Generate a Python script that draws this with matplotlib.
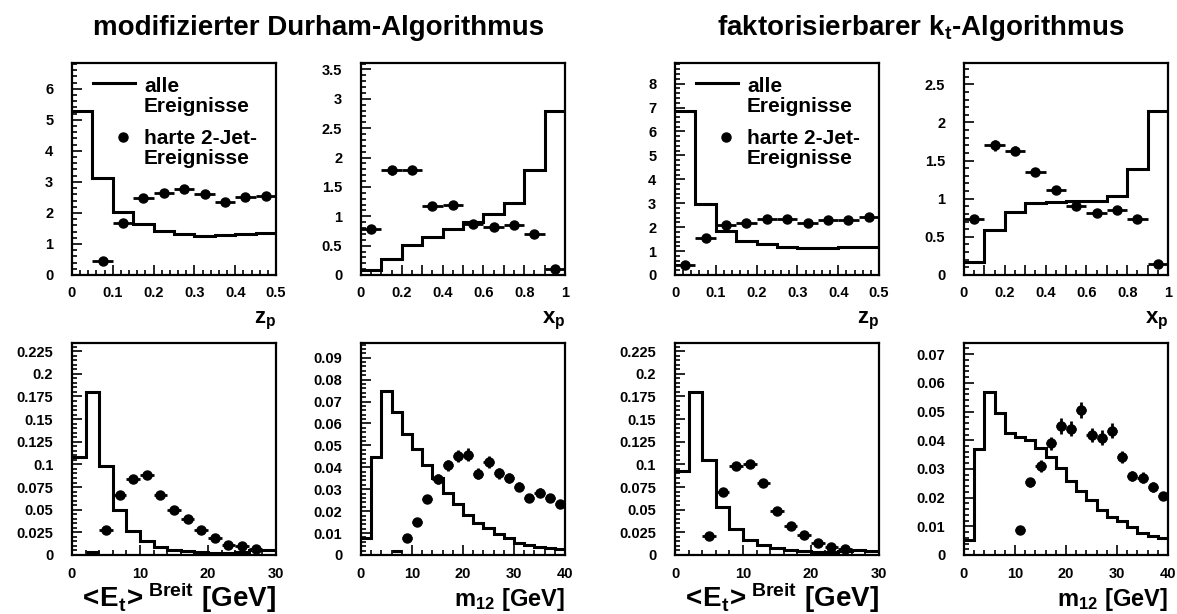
import matplotlib
matplotlib.use("Agg")
import matplotlib.pyplot as plt
import numpy as np
from matplotlib.ticker import MultipleLocator, FixedLocator, FixedFormatter

matplotlib.rcParams['font.family'] = 'Liberation Sans'
matplotlib.rcParams['font.weight'] = 'bold'
matplotlib.rcParams['mathtext.fontset'] = 'custom'
matplotlib.rcParams['mathtext.rm'] = 'Liberation Sans'
matplotlib.rcParams['mathtext.bf'] = 'Liberation Sans:bold'
matplotlib.rcParams['mathtext.it'] = 'Liberation Sans:italic'

# ---------------- Daten ----------------
zp_edges = np.linspace(0, 0.5, 11)
xp_edges = np.linspace(0, 1.0, 11)
et_edges = np.arange(0, 31, 2)
m12_edges = np.arange(0, 41, 2)

# modifizierter Durham
zp_dur_all = [5.28, 3.14, 2.04, 1.65, 1.43, 1.33, 1.26, 1.30, 1.33, 1.34]
zp_dur_x = [0.075, 0.125, 0.175, 0.225, 0.275, 0.325, 0.375, 0.425, 0.475]
zp_dur_y = [0.45, 1.66, 2.49, 2.64, 2.77, 2.60, 2.34, 2.50, 2.56]
zp_dur_err = [0.03, 0.05, 0.06, 0.06, 0.06, 0.06, 0.06, 0.06, 0.06]

xp_dur_all = [0.085, 0.28, 0.51, 0.65, 0.78, 0.91, 1.04, 1.23, 1.79, 2.79]
xp_dur_x = [0.05, 0.15, 0.25, 0.35, 0.45, 0.55, 0.65, 0.75, 0.85, 0.95]
xp_dur_y = [0.78, 1.78, 1.79, 1.17, 1.19, 0.86, 0.82, 0.85, 0.69, 0.11]
xp_dur_err = [0.03, 0.07, 0.07, 0.04, 0.04, 0.03, 0.03, 0.03, 0.03, 0.02]

et_dur_all = [0.1078, 0.1798, 0.0983, 0.0501, 0.0265, 0.0158, 0.0086, 0.0058,
              0.0045, 0.0032, 0.0026, 0.0026, 0.003, 0.005, 0.005]
et_dur_x = [5, 7, 9, 11, 13, 15, 17, 19, 21, 23, 25, 27]
et_dur_y = [0.0274, 0.066, 0.0837, 0.0881, 0.066, 0.0493, 0.0395, 0.028,
            0.0183, 0.011, 0.0095, 0.0066]
et_dur_err = [0.0012, 0.0018, 0.002, 0.002, 0.0018, 0.0016, 0.0014, 0.0012,
              0.001, 0.0008, 0.0008, 0.0007]
et_dur_low_x = [3]
et_dur_low_y = [0.0035]

m12_dur_all = [0.0077, 0.0446, 0.0746, 0.0653, 0.0554, 0.0483, 0.0411, 0.035,
               0.0284, 0.0234, 0.0183, 0.0148, 0.0121, 0.0098, 0.0077, 0.0056,
               0.0044, 0.0036, 0.003, 0.0026]
m12_dur_x = [9, 11, 13, 15, 17, 19, 21, 23, 25, 27, 29, 31, 33, 35, 37, 39]
m12_dur_y = [0.0076, 0.0151, 0.0257, 0.0346, 0.041, 0.045, 0.0458, 0.037,
             0.0424, 0.0372, 0.0352, 0.0311, 0.026, 0.0284, 0.0261, 0.0231]
m12_dur_err = [0.0008, 0.0012, 0.0018, 0.0022, 0.0025, 0.0027, 0.0028, 0.0025,
               0.0027, 0.0024, 0.0023, 0.0021, 0.0019, 0.002, 0.0019, 0.0017]
m12_dur_low_x = [7]
m12_dur_low_y = [0.0018]

# faktorisierbarer kt
zp_kt_all = [6.86, 2.96, 1.82, 1.43, 1.29, 1.18, 1.11, 1.11, 1.15, 1.18]
zp_kt_x = [0.025, 0.075, 0.125, 0.175, 0.225, 0.275, 0.325, 0.375, 0.425, 0.475]
zp_kt_y = [0.40, 1.53, 2.11, 2.16, 2.34, 2.34, 2.17, 2.29, 2.31, 2.42]
zp_kt_err = [0.03, 0.05, 0.06, 0.06, 0.06, 0.06, 0.06, 0.06, 0.06, 0.06]

xp_kt_all = [0.17, 0.59, 0.83, 0.94, 0.96, 0.97, 0.97, 1.04, 1.39, 2.15]
xp_kt_x = [0.05, 0.15, 0.25, 0.35, 0.45, 0.55, 0.65, 0.75, 0.85, 0.95]
xp_kt_y = [0.73, 1.70, 1.63, 1.35, 1.11, 0.91, 0.81, 0.85, 0.73, 0.14]
xp_kt_err = [0.03, 0.07, 0.06, 0.05, 0.04, 0.03, 0.03, 0.03, 0.03, 0.02]

et_kt_all = [0.0932, 0.1798, 0.1049, 0.0534, 0.0292, 0.0168, 0.011, 0.0073,
             0.0055, 0.004, 0.0035, 0.0035, 0.004, 0.0058, 0.0048]
et_kt_x = [5, 7, 9, 11, 13, 15, 17, 19, 21, 23, 25]
et_kt_y = [0.0205, 0.0694, 0.0983, 0.1005, 0.0793, 0.0482, 0.0318, 0.0223,
           0.0132, 0.0088, 0.0062]
et_kt_err = [0.0012, 0.0018, 0.002, 0.002, 0.0018, 0.0016, 0.0014, 0.0012,
             0.001, 0.0008, 0.0008]

m12_kt_all = [0.0051, 0.0371, 0.0568, 0.0495, 0.0424, 0.0413, 0.0401, 0.0372,
              0.0343, 0.0302, 0.0258, 0.0224, 0.019, 0.0158, 0.0133, 0.0119,
              0.0096, 0.0077, 0.0065, 0.0058]
m12_kt_x = [11, 13, 15, 17, 19, 21, 23, 25, 27, 29, 31, 33, 35, 37, 39]
m12_kt_y = [0.0087, 0.0254, 0.0311, 0.0389, 0.0449, 0.044, 0.0505, 0.0418,
            0.0409, 0.0433, 0.0342, 0.0275, 0.027, 0.0237, 0.0207]
m12_kt_err = [0.0008, 0.0016, 0.002, 0.0023, 0.0027, 0.0026, 0.0028, 0.0025,
              0.0025, 0.0026, 0.0021, 0.0018, 0.0018, 0.0016, 0.0014]

# ---------------- Layout ----------------
W, H = 1177, 614
lefts = [72, 361, 675, 964]
tops = [63, 343]
aw, ah = 204, 212


def make_ax(fig, col, row):
    l = lefts[col] / W
    b = 1 - (tops[row] + ah) / H
    ax = fig.add_axes([l, b, aw / W, ah / H])
    for sp in ax.spines.values():
        sp.set_linewidth(1.6)
    ax.tick_params(which='both', direction='in', top=False, right=False,
                   labelsize=10.5, width=1.2)
    ax.tick_params(axis='y', which='both', pad=13.5)
    ax.tick_params(axis='x', which='both', pad=8 if row == 0 else 9)
    ax.tick_params(which='major', length=7)
    ax.tick_params(which='minor', length=3.5)
    return ax


def draw(ax, edges, hist, px, py, perr, xerr, low_x=None, low_y=None):
    ax.stairs(hist, edges, baseline=None, color='black', linewidth=2.2)
    ax.errorbar(px, py, xerr=xerr, yerr=perr, fmt='o', color='black',
                markersize=6.5, elinewidth=2, capsize=0)
    if low_x:
        ax.errorbar(low_x, low_y, xerr=xerr, fmt='none', ecolor='black',
                    elinewidth=2.2, capsize=0)
    ax.set_xlim(edges[0], edges[-1])


def add_legend(ax):
    # ROOT-artige Legende, Symbol auf Höhe der ersten Textzeile
    tr = ax.transAxes
    ax.plot([0.103, 0.309], [0.906, 0.906], color='black', linewidth=2.2,
            transform=tr, clip_on=False)
    ax.plot([0.25], [0.651], 'o', color='black', markersize=6.5,
            transform=tr, clip_on=False)
    ax.text(0.353, 0.936, "alle\nEreignisse", transform=tr, va='top',
            ha='left', fontsize=15, fontweight='bold', linespacing=1.1)
    ax.text(0.353, 0.690, "harte 2-Jet-\nEreignisse", transform=tr, va='top',
            ha='left', fontsize=15, fontweight='bold', linespacing=1.1)


def xp_ticks(ax):
    ax.xaxis.set_major_locator(FixedLocator(np.arange(0, 1.01, 0.1)))
    ax.xaxis.set_major_formatter(FixedFormatter(
        ['0', '', '0.2', '', '0.4', '', '0.6', '', '0.8', '', '1']))
    ax.xaxis.set_minor_locator(MultipleLocator(0.05))


fig = plt.figure(figsize=(W / 100, H / 100), dpi=100)

zlab = r"$\mathbf{z}_{\mathbf{p}}$"
xlab = r"$\mathbf{x}_{\mathbf{p}}$"
etlab = r"$<\!\mathbf{E}_{\mathbf{t}}\!>^{\mathbf{Breit}}\ [\mathbf{GeV}]$"
mlab = r"$\mathbf{m}_{\mathbf{12}}\ [\mathbf{GeV}]$"

sets = [
    (zp_dur_all, zp_dur_x, zp_dur_y, zp_dur_err, xp_dur_all, xp_dur_x, xp_dur_y, xp_dur_err,
     et_dur_all, et_dur_x, et_dur_y, et_dur_err, m12_dur_all, m12_dur_x, m12_dur_y, m12_dur_err,
     (6.83, 3.61, 0.234, 0.0967), (et_dur_low_x, et_dur_low_y, m12_dur_low_x, m12_dur_low_y)),
    (zp_kt_all, zp_kt_x, zp_kt_y, zp_kt_err, xp_kt_all, xp_kt_x, xp_kt_y, xp_kt_err,
     et_kt_all, et_kt_x, et_kt_y, et_kt_err, m12_kt_all, m12_kt_x, m12_kt_y, m12_kt_err,
     (8.86, 2.78, 0.234, 0.0739), (None, None, None, None)),
]

fmt_g = plt.FuncFormatter(lambda v, p: f"{v:g}")

for k, s in enumerate(sets):
    (za, zx, zy, ze, xa, xx, xy, xe, ea, ex, ey, ee, ma, mx, my, me, ylims, lows) = s

    # z_p
    ax = make_ax(fig, 2 * k, 0)
    draw(ax, zp_edges, za, zx, zy, ze, 0.025)
    ax.set_ylim(0, ylims[0])
    ax.yaxis.set_major_locator(MultipleLocator(1))
    ax.yaxis.set_minor_locator(MultipleLocator(0.2))
    ax.xaxis.set_major_locator(MultipleLocator(0.1))
    ax.xaxis.set_minor_locator(MultipleLocator(0.02))
    ax.xaxis.set_major_formatter(fmt_g)
    ax.set_xlabel(zlab, loc='right', fontsize=16, labelpad=7)
    add_legend(ax)

    # x_p
    ax = make_ax(fig, 2 * k + 1, 0)
    draw(ax, xp_edges, xa, xx, xy, xe, 0.05)
    ax.set_ylim(0, ylims[1])
    ax.yaxis.set_major_locator(MultipleLocator(0.5))
    ax.yaxis.set_minor_locator(MultipleLocator(0.1))
    ax.yaxis.set_major_formatter(fmt_g)
    xp_ticks(ax)
    ax.set_xlabel(xlab, loc='right', fontsize=16, labelpad=7)

    # Et Breit
    ax = make_ax(fig, 2 * k, 1)
    draw(ax, et_edges, ea, ex, ey, ee, 1, lows[0], lows[1])
    ax.set_ylim(0, ylims[2])
    ax.yaxis.set_major_locator(MultipleLocator(0.025))
    ax.yaxis.set_minor_locator(MultipleLocator(0.005))
    ax.yaxis.set_major_formatter(fmt_g)
    ax.xaxis.set_major_locator(MultipleLocator(10))
    ax.xaxis.set_minor_locator(MultipleLocator(2))
    ax.set_xlabel(etlab, loc='right', fontsize=20, labelpad=-1)

    # m12
    ax = make_ax(fig, 2 * k + 1, 1)
    draw(ax, m12_edges, ma, mx, my, me, 1, lows[2], lows[3])
    ax.set_ylim(0, ylims[3])
    ax.yaxis.set_major_locator(MultipleLocator(0.01))
    ax.yaxis.set_minor_locator(MultipleLocator(0.002))
    ax.yaxis.set_major_formatter(fmt_g)
    ax.xaxis.set_major_locator(MultipleLocator(10))
    ax.xaxis.set_minor_locator(MultipleLocator(2))
    ax.set_xlabel(mlab, loc='right', fontsize=17, labelpad=3)

fig.text(319 / W, 1 - 35 / H, "modifizierter Durham-Algorithmus",
         ha='center', va='baseline', fontsize=20, fontweight='bold')
fig.text(921 / W, 1 - 35 / H, r"faktorisierbarer k$_{\mathbf{t}}$-Algorithmus",
         ha='center', va='baseline', fontsize=20, fontweight='bold')

plt.savefig("out.png", dpi=100)
plt.close()
